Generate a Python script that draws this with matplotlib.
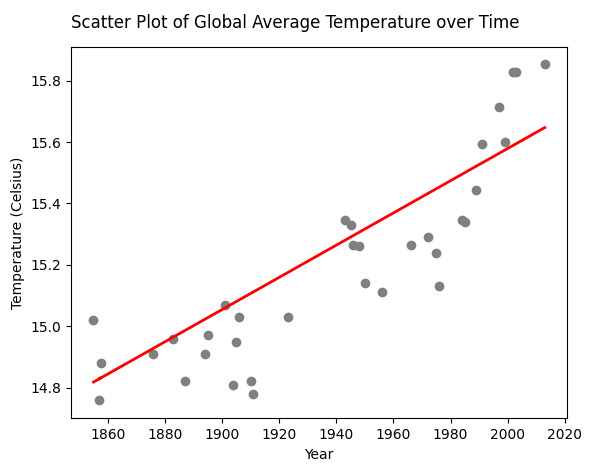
import numpy as np
import matplotlib.pyplot as plt

years = [1855, 1857.6, 1857, 1876, 1883, 1887, 1894, 1895, 1901, 1904, 1905, 1906,
         1910, 1911, 1923, 1943, 1945, 1946, 1948, 1950, 1956, 1966, 1972, 1975,
         1976, 1984, 1985, 1989, 1991, 1997, 1999, 2002, 2003, 2013]
temps = [15.02, 14.88, 14.76, 14.91, 14.96, 14.82, 14.91, 14.97, 15.07, 14.81, 14.95, 15.03,
         14.82, 14.78, 15.03, 15.345, 15.33, 15.265, 15.26, 15.14, 15.11, 15.265, 15.29, 15.24,
         15.13, 15.345, 15.34, 15.445, 15.595, 15.715, 15.60, 15.83, 15.83, 15.855]

# trend line: value at 1855 and slope per year
trend_at_1855 = 14.818
trend_slope = 0.00525

x = np.array(years)
y = np.array(temps)

fig, ax = plt.subplots(figsize=(5.91, 4.70), dpi=100)
ax.scatter(x, y, color='gray')
ax.plot(x, trend_at_1855 + trend_slope * (x - 1855), color='red', linewidth=2)
ax.set_xlabel('Year')
ax.set_ylabel('Temperature (Celsius)')
ax.set_ylim(14.70, 15.91)
fig.suptitle('Scatter Plot of Global Average Temperature over Time', y=0.97)
fig.subplots_adjust(left=0.12, right=0.96, top=0.9, bottom=0.11)
fig.savefig('out.png')
